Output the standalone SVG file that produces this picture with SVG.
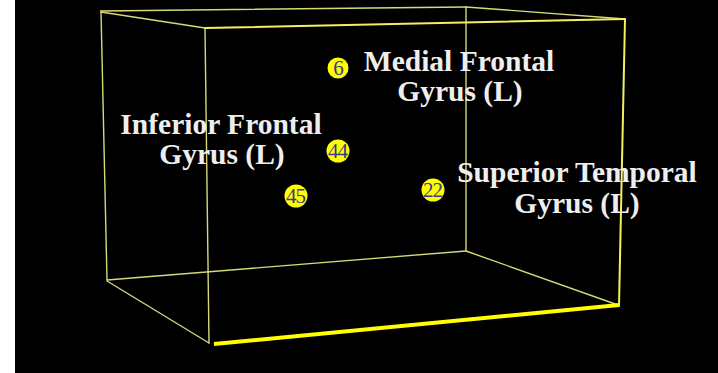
<svg xmlns="http://www.w3.org/2000/svg" width="718" height="373" viewBox="0 0 718 373">
<style>
.thin{stroke:#d8d878;stroke-width:1.4;fill:none;stroke-linecap:round}
.mid{stroke:#f0f060;stroke-width:2;fill:none;stroke-linecap:round}
.thick{stroke:#ffff00;stroke-width:4;fill:none}
.lbl{font-family:"Liberation Serif","Times New Roman",serif;font-weight:bold;font-size:29.5px;fill:#eeeeee;text-anchor:middle}
.dot{fill:#ffff00}
.num{font-family:"Liberation Serif","Times New Roman",serif;font-size:21px;fill:#3a3a90;text-anchor:middle;letter-spacing:-1px}
</style>
<rect x="0" y="0" width="718" height="373" fill="#ffffff"/>
<rect x="15" y="0" width="703" height="373" fill="#000000"/>
<g id="connectors">
  <line class="thin" x1="101" y1="11" x2="466" y2="7"/>
  <line class="thin" x1="101" y1="11" x2="107" y2="280"/>
  <line class="thin" x1="466" y1="7" x2="466" y2="251"/>
  <line class="thin" x1="107" y1="280" x2="466" y2="251"/>
  <line class="thin" x1="101" y1="12" x2="205" y2="28"/>
  <line class="thin" x1="466" y1="7" x2="625" y2="19"/>
  <line class="thin" x1="107" y1="281" x2="209" y2="343"/>
  <line class="thin" x1="466" y1="251" x2="618" y2="305"/>
  <line class="mid" x1="205" y1="28" x2="625" y2="19"/>
  <line class="thin" x1="205" y1="28" x2="209" y2="343"/>
  <line class="mid" x1="625" y1="19" x2="619" y2="306"/>
  <line class="thick" x1="214" y1="344" x2="619" y2="305"/>
</g>
<g id="node-6">
  <circle class="dot" cx="338" cy="68" r="10.5"/>
  <text class="num" x="338" y="75">6</text>
</g>
<g id="node-44">
  <circle class="dot" cx="338" cy="151" r="11.5"/>
  <text class="num" x="337.5" y="158">44</text>
</g>
<g id="node-45">
  <circle class="dot" cx="296" cy="196" r="11.5"/>
  <text class="num" x="295.5" y="203">45</text>
</g>
<g id="node-22">
  <circle class="dot" cx="433" cy="190" r="11.5"/>
  <text class="num" x="432.5" y="197">22</text>
</g>
<g id="label-medial">
  <text class="lbl" x="459" y="71">Medial Frontal</text>
  <text class="lbl" x="460" y="101">Gyrus (L)</text>
</g>
<g id="label-inferior">
  <text class="lbl" x="221" y="134">Inferior Frontal</text>
  <text class="lbl" x="222" y="164">Gyrus (L)</text>
</g>
<g id="label-superior">
  <text class="lbl" x="577" y="182">Superior Temporal</text>
  <text class="lbl" x="577" y="213">Gyrus (L)</text>
</g>
</svg>
